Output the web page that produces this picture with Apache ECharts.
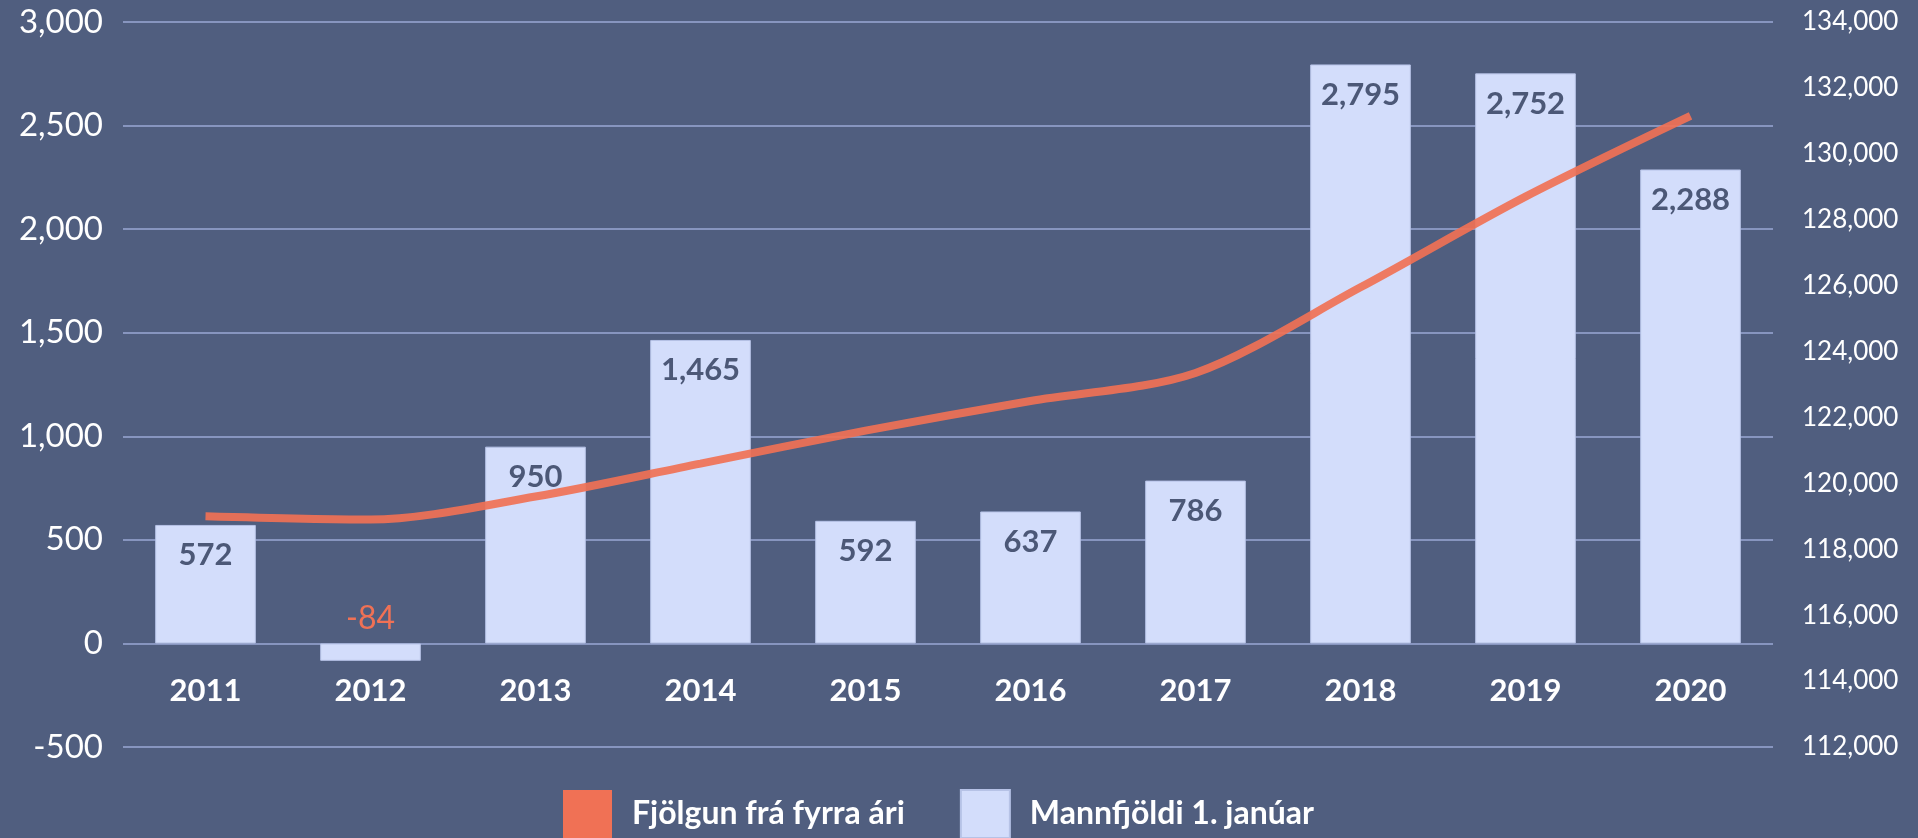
<!DOCTYPE html>
<html>
<head>
<meta charset="utf-8">
<script src="https://cdn.jsdelivr.net/npm/echarts@6/dist/echarts.min.js"></script>
<style>
  html, body { margin: 0; padding: 0; background: #505e7f; }
  #main { width: 1918px; height: 838px; }
</style>
</head>
<body>
<div id="main"></div>
<script>
var years = ['2011', '2012', '2013', '2014', '2015', '2016', '2017', '2018', '2019', '2020'];
// bars: yearly change
var fjolgun = [572, -84, 950, 1465, 592, 637, 786, 2795, 2752, 2288];
// line: population 1 Jan
var mannfjoldi = [119000, 118900, 119600, 120600, 121600, 122500, 123350, 125950, 128700, 131150];
var leftTicks = { min: -500, max: 3000, interval: 500 };
var rightTicks = { min: 112000, max: 134000, interval: 2000 };

var fmt = function (v) {
    return Number(v).toLocaleString('en-US');
};

var barData = fjolgun.map(function (v) {
    if (v < 0) {
        return {
            value: v,
            label: {
                position: 'top',
                distance: 9,
                color: '#f07155',
                fontWeight: 'normal',
                fontSize: 32
            }
        };
    }
    return v;
});

option = {
    backgroundColor: '#505e7f',
    textStyle: { fontFamily: 'Lato' },
    animation: false,
    grid: {
        left: 123,
        right: 145,
        top: 22,
        bottom: 91
    },
    legend: {
        data: ['Fjölgun frá fyrra ári', 'Mannfjöldi 1. janúar'],
        left: 558,
        top: 784,
        icon: 'rect',
        itemWidth: 49,
        itemHeight: 48,
        itemGap: 55,
        textStyle: {
            color: '#ffffff',
            fontFamily: 'Lato',
            fontWeight: 'bold',
            fontSize: 32,
            padding: [0, 0, 0, 15]
        }
    },
    xAxis: {
        type: 'category',
        data: years,
        // labels sit under the zero line, not under the -500 line
        offset: -104,
        axisLine: { show: false, onZero: false },
        axisTick: { show: false },
        axisLabel: {
            color: '#ffffff',
            fontWeight: 'bold',
            fontSize: 31,
            margin: 32
        }
    },
    yAxis: [{
        type: 'value',
        min: leftTicks.min,
        max: leftTicks.max,
        interval: leftTicks.interval,
        axisLabel: {
            color: '#ffffff',
            fontSize: 33,
            margin: 20,
            formatter: fmt
        },
        splitLine: {
            lineStyle: { color: '#8795bf', width: 2 }
        }
    }, {
        type: 'value',
        min: rightTicks.min,
        max: rightTicks.max,
        interval: rightTicks.interval,
        axisLabel: {
            color: '#ffffff',
            fontSize: 26,
            margin: 29,
            formatter: fmt
        },
        splitLine: { show: false }
    }],
    series: [{
        name: 'Mannfjöldi 1. janúar',
        type: 'bar',
        data: barData,
        barWidth: '61%',
        itemStyle: {
            color: '#d3ddfb',
            borderColor: '#b6c2e6',
            borderWidth: 1
        },
        label: {
            show: true,
            position: 'insideTop',
            distance: 15,
            color: '#4c5877',
            fontWeight: 'bold',
            fontSize: 31,
            formatter: function (p) { return fmt(p.value); }
        }
    }, {
        name: 'Fjölgun frá fyrra ári',
        type: 'line',
        yAxisIndex: 1,
        data: mannfjoldi,
        smooth: 0.3,
        showSymbol: false,
        color: '#f07155',
        lineStyle: {
            color: '#f07155',
            width: 8,
            opacity: 0.92
        },
        z: 5
    }]
};

var myChart = echarts.init(document.getElementById('main'));
myChart.setOption(option);
</script>
</body>
</html>
